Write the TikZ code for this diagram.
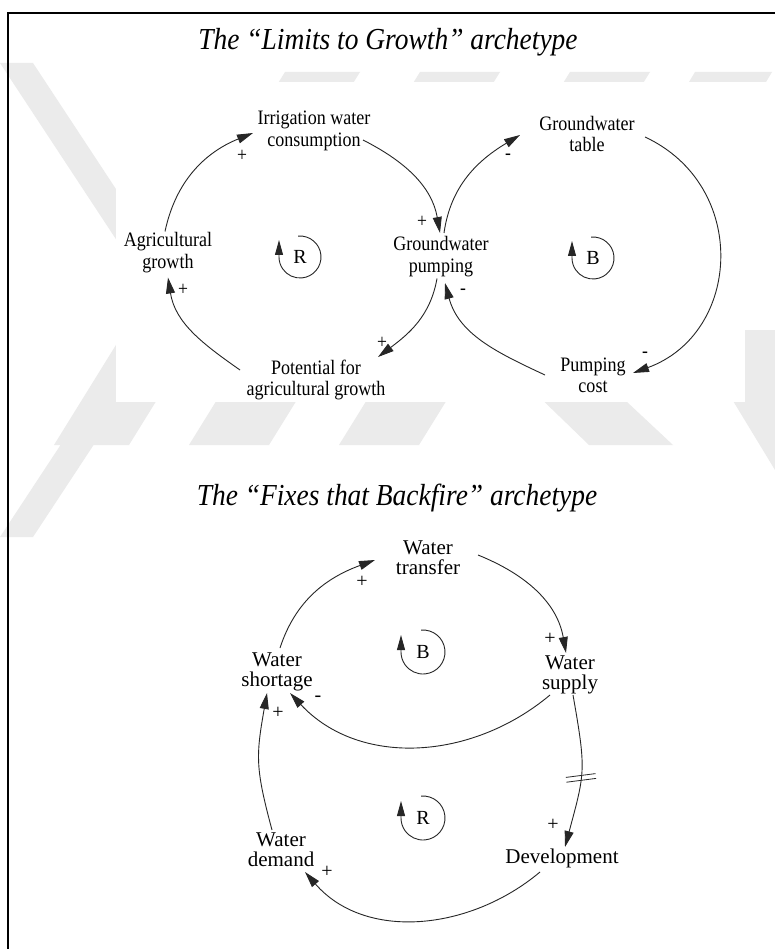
\documentclass[tikz,border=0pt]{standalone}
\usepackage{fontspec}
\setmainfont{Liberation Serif}
\newfontfamily\condserif[FakeStretch=0.88]{Liberation Serif}
\newfontfamily\ttlserif[FakeStretch=0.9]{Liberation Serif}
\usetikzlibrary{arrows.meta}
\begin{document}
\begin{tikzpicture}[x=1pt,y=1pt,
  lbl/.style={font=\condserif\fontsize{20.5}{21.5}\selectfont, align=center, inner sep=2pt},
  lblb/.style={font=\fontsize{21}{20}\selectfont, align=center, inner sep=2pt},
  sgn/.style={font=\condserif\fontsize{20}{20}\selectfont, inner sep=0pt},
  sgnb/.style={font=\fontsize{20}{20}\selectfont, inner sep=0pt},
  link/.style={draw=black!85, line width=0.9pt, -{Triangle[length=16pt,width=9pt]}},
  loopsym/.style={draw=black!85, line width=0.9pt, -{Triangle[length=15pt,width=8pt]}},
  symtxt/.style={font=\fontsize{20}{20}\selectfont, inner sep=0pt},
  ttl/.style={font=\ttlserif\fontsize{30.5}{34}\selectfont\itshape, inner sep=0pt},
  wm/.style={fill=black!8, draw=none}
]
\useasboundingbox (0,0) rectangle (775,-949);
\fill[white] (0,0) rectangle (775,-949);

% ---- faint watermark ----
\fill[wm] (0,-63) -- (33,-63) -- (189,-300) -- (33,-537) -- (0,-537) -- (156,-300) -- cycle;
\fill[wm] (285,-72) -- (360,-72) -- (129,-445) -- (54,-445) -- cycle;
\fill[wm] (420,-72) -- (500,-72) -- (269,-445) -- (189,-445) -- cycle;
\fill[wm] (570,-72) -- (650,-72) -- (419,-445) -- (339,-445) -- cycle;
\fill[wm] (695,-72) -- (772,-72) -- (766,-82) -- (689,-82) -- cycle;
\fill[wm] (470,-330) -- (550,-330) -- (673,-445) -- (589,-445) -- cycle;
\fill[wm] (690,-330) -- (775,-330) -- (775,-470) -- cycle;
\fill[white] (116,-82) rectangle (745,-402);

% ---- frame ----
\draw[line width=2pt] (8,-949) -- (8,-13) -- (775,-13);

% ---- titles ----
\node[ttl, anchor=base] (t1) at (388,-50) {The “Limits to Growth” archetype};
\node[ttl, anchor=base] (t2) at (397,-505) {The “Fixes that Backfire” archetype};

% ---- Limits to Growth ----
\node[lbl] (irr) at (314,-131) {Irrigation water\\consumption};
\node[lbl] (agr) at (168,-252.5) {Agricultural\\growth};
\node[lbl] (gwp) at (441,-256.5) {Groundwater\\pumping};
\node[lbl] (pot) at (316,-380) {Potential for\\agricultural growth};
\node[lbl] (gwt) at (587,-134) {Groundwater\\table};
\node[lbl] (pc)  at (593,-375.5) {Pumping\\cost};

\draw[link] ([shift={(-3,21)}]agr.center) to[out=78,in=202] ([shift={(-61,-2)}]irr.center);
\draw[link] ([shift={(49,-9)}]irr.center) to[out=-27,in=100] ([shift={(-1,23.5)}]gwp.center);
\draw[link] ([shift={(-4,-22)}]gwp.center) to[out=-100,in=37] ([shift={(62,23)}]pot.center);
\draw[link] ([shift={(-76,10)}]pot.center) to[out=145,in=-81] ([shift={(0,-25)}]agr.center);
\draw[link] ([shift={(3,23.5)}]gwp.center) to[out=82,in=211] ([shift={(-67,-1)}]gwt.center);
\draw[link] ([shift={(58,-3)}]gwt.center) to[out=-25,in=20,looseness=1.25] ([shift={(40,2.5)}]pc.center);
\draw[link] ([shift={(-48,0.5)}]pc.center) to[out=155,in=-75] ([shift={(4,-26.5)}]gwp.center);

\node[sgn] (s1) at (242,-156) {+};
\node[sgn] (s2) at (422,-222) {+};
\node[sgn] (s3) at (382,-343) {+};
\node[sgn] (s4) at (183,-290) {+};
\node[sgn] (s5) at (508,-157) {-};
\node[sgn] (s6) at (645,-355) {-};
\node[sgn] (s7) at (463,-292) {-};

\node[symtxt] (r1) at (300,-257) {R};
\draw[loopsym] ([shift={(95:21)}]r1.center) arc[start angle=95,end angle=-180,radius=21] -- ++(0,17);
\node[symtxt] (b1) at (593,-258) {B};
\draw[loopsym] ([shift={(95:21)}]b1.center) arc[start angle=95,end angle=-180,radius=21] -- ++(0,17);

% ---- Fixes that Backfire ----
\node[lblb] (wt)   at (428,-558) {Water\\transfer};
\node[lblb] (ws)   at (277,-672) {Water\\shortage};
\node[lblb] (wsup) at (570,-675) {Water\\supply};
\node[lblb] (wd)   at (281,-850) {Water\\demand};
\node[lblb] (dev)  at (562,-858) {Development};

\draw[link] ([shift={(3,24)}]ws.center) to[out=72,in=200] ([shift={(-53,-2)}]wt.center);
\draw[link] ([shift={(50,3)}]wt.center) to[out=-22,in=100] ([shift={(-4,22)}]wsup.center);
\draw[link] ([shift={(-20,-20)}]wsup.center) to[out=-140,in=-47] ([shift={(13,-21)}]ws.center);
\draw[link] ([shift={(-9,20)}]wd.center) to[out=105,in=-100,looseness=1.2] ([shift={(-10,-21)}]ws.center);
\draw[link] ([shift={(3,-20)}]wsup.center) to[out=-80,in=75,looseness=1.3] coordinate[pos=0.55] (dly) ([shift={(3,11)}]dev.center);
\draw[link] ([shift={(-22,-14)}]dev.center) to[out=-140,in=-49] ([shift={(24,-22)}]wd.center);

\draw[draw=black!85, line width=0.8pt] ([shift={(-15.2,-0.1)}]dly) -- ([shift={(14.4,3.7)}]dly)
  ([shift={(-14.6,-4.9)}]dly) -- ([shift={(15,-1.1)}]dly);

\node[sgnb] (s8)  at (362,-582) {+};
\node[sgnb] (s9)  at (550,-639) {+};
\node[sgnb] (s10) at (318,-699) {-};
\node[sgnb] (s11) at (278,-713) {+};
\node[sgnb] (s12) at (553,-825) {+};
\node[sgnb] (s13) at (327,-872) {+};

\node[symtxt] (b2) at (423,-652) {B};
\draw[loopsym] ([shift={(95:22)}]b2.center) arc[start angle=95,end angle=-180,radius=22] -- ++(0,17);
\node[symtxt] (r2) at (423,-818) {R};
\draw[loopsym] ([shift={(95:22)}]r2.center) arc[start angle=95,end angle=-180,radius=22] -- ++(0,17);
\end{tikzpicture}
\end{document}
